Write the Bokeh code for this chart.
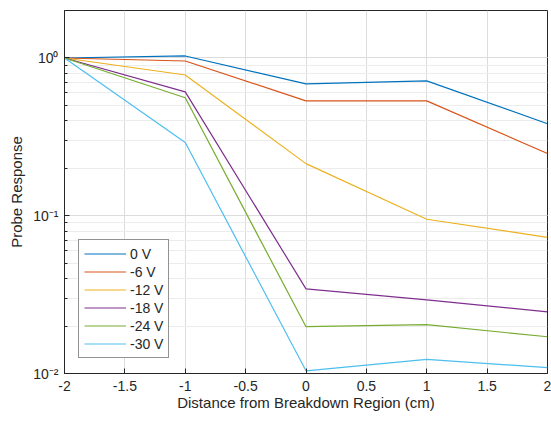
from bokeh.plotting import figure
from bokeh.models import (Range1d, FixedTicker, LogTicker,
                          CustomJSTickFormatter, Legend, LegendItem)
from bokeh.embed import file_html
from bokeh.resources import INLINE

distance = [-2, -1, 0, 1, 2]
series_labels = ["0 V", "-6 V", "-12 V", "-18 V", "-24 V", "-30 V"]
v0 = [1.0, 1.03, 0.685, 0.716, 0.383]
v6 = [1.0, 0.957, 0.535, 0.535, 0.248]
v12 = [1.0, 0.78, 0.214, 0.095, 0.073]
v18 = [1.0, 0.61, 0.0344, 0.0293, 0.0246]
v24 = [1.0, 0.56, 0.0198, 0.0204, 0.0171]
v30 = [1.0, 0.291, 0.0104, 0.0123, 0.0109]
series_values = [v0, v6, v12, v18, v24, v30]
colors = ["#0072BD", "#D95319", "#EDB120", "#7E2F8E", "#77AC30", "#4DBEEE"]
x_ticks = [-2, -1.5, -1, -0.5, 0, 0.5, 1, 1.5, 2]

FONT = "Liberation Sans"
AX = "#262626"

p = figure(width=551, height=416, y_axis_type="log",
           x_range=Range1d(-2, 2), y_range=Range1d(0.01, 2),
           output_backend="svg", toolbar_location=None,
           min_border_left=64, min_border_right=4, min_border_top=10, min_border_bottom=43)
p.outline_line_color = AX

items = []
for lab, vals, c in zip(series_labels, series_values, colors):
    r = p.line(distance, vals, line_color=c, line_width=1.2)
    items.append(LegendItem(label=lab, renderers=[r]))

xfmt = CustomJSTickFormatter(code="return tick.toString();")
yfmt = CustomJSTickFormatter(code="""
const sup = {'-':'\u207B','0':'\u2070','1':'\u00B9','2':'\u00B2','3':'\u00B3'};
const e = Math.round(Math.log10(tick));
return '10' + String(e).split('').map(c => sup[c]).join('');
""")

xa = p.xaxis[0]
xa.ticker = FixedTicker(ticks=x_ticks)
xa.formatter = xfmt
ya = p.yaxis[0]
ya.ticker = LogTicker(num_minor_ticks=10)
ya.formatter = yfmt

for ax in (xa, ya):
    ax.axis_line_color = AX
    ax.major_tick_line_color = AX
    ax.minor_tick_line_color = AX
    ax.major_tick_in = 5
    ax.major_tick_out = 0
    ax.minor_tick_in = 3
    ax.minor_tick_out = 0
    ax.major_label_text_font = FONT
    ax.major_label_text_font_size = "14px"
    ax.major_label_text_color = AX
    ax.axis_label_text_font = FONT
    ax.axis_label_text_font_size = "15px"
    ax.axis_label_text_font_style = "normal"
    ax.axis_label_text_color = AX
xa.major_label_standoff = 7
xa.axis_label = "Distance from Breakdown Region (cm)"
xa.axis_label_standoff = 0
ya.major_label_standoff = 6
ya.axis_label = "Probe Response"
ya.axis_label_standoff = 5

p.xgrid.grid_line_color = "#dcdcdc"
p.ygrid.grid_line_color = "#dcdcdc"
p.ygrid.minor_grid_line_color = "#ececec"
p.xgrid.ticker = FixedTicker(ticks=x_ticks)

legend = Legend(items=items, location=(14, 15), orientation="vertical",
                border_line_color=AX, border_line_width=1, background_fill_color="white",
                background_fill_alpha=1, label_text_font=FONT, label_text_font_size="14px",
                label_text_color=AX, glyph_width=42, glyph_height=17, label_height=17,
                spacing=1, padding=5, margin=0, label_standoff=4)
p.add_layout(legend, "center")

open("out.html", "w").write(file_html(p, INLINE))
